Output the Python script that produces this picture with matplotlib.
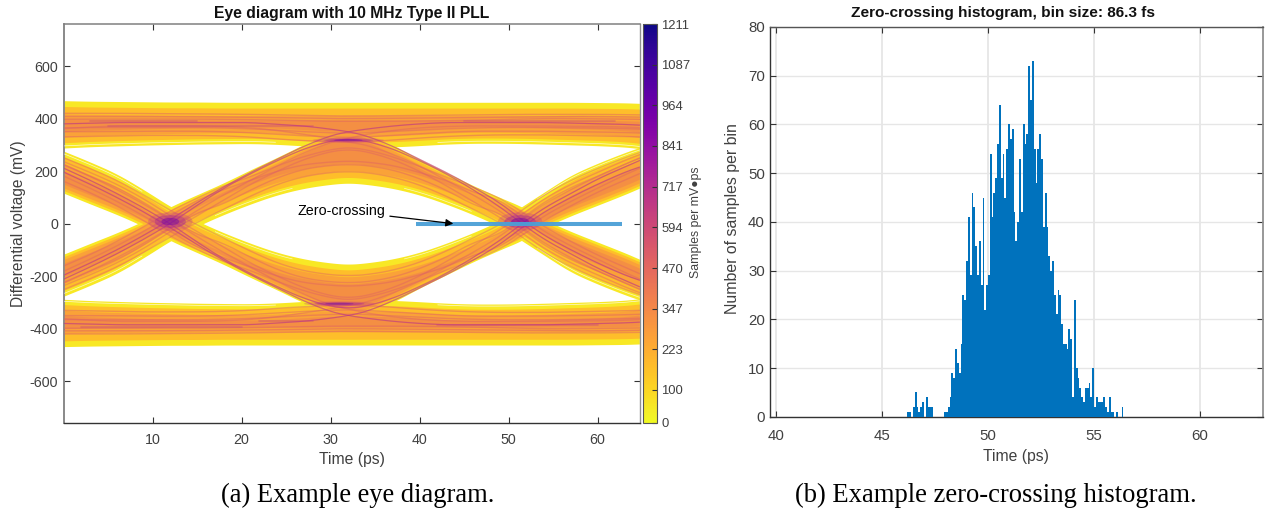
import numpy as np
import matplotlib
matplotlib.use("Agg")
import matplotlib.pyplot as plt
from matplotlib.cm import ScalarMappable
from matplotlib.colors import Normalize
from matplotlib.patches import Ellipse

# ---- data -----------------------------------------------------------------
t_s = [0.1, 3, 6, 9, 12, 15, 18, 21, 24, 27, 30, 32, 34, 37, 40, 43, 46, 49, 51.5, 54, 57, 60, 63, 64.7]

arc_hi = [-115, -75, -35, 10, 65, 110, 155, 205, 252, 302, 348, 362, 348, 300, 245, 195, 145, 100, 65, 15, -30, -70, -110, -135]
arc_lo = [-275, -235, -190, -130, -65, -10, 35, 75, 110, 135, 150, 155, 150, 135, 110, 75, 35, -10, -65, -120, -185, -230, -270, -290]

rail_top = [468, 466, 465, 464, 463, 463, 462, 462, 462, 462, 462, 462, 462, 462, 462, 462, 462, 462, 462, 462, 462, 461, 460, 458]
rail_low = [288, 293, 296, 299, 301, 303, 304, 305, 302, 296, 290, 290, 290, 292, 297, 303, 306, 306, 305, 303, 300, 297, 292, 286]

trace_a = [-210, -165, -115, -60, 0, 70, 135, 190, 240, 285, 315, 322, 315, 285, 240, 190, 130, 65, 0, -60, -115, -170, -215, -240]
trace_b = [-235, -195, -150, -95, -30, 30, 90, 150, 200, 245, 275, 282, 275, 245, 200, 145, 85, 25, -35, -95, -150, -195, -240, -262]
trace_c = [-180, -135, -85, -30, 30, 90, 130, 165, 200, 225, 235, 238, 235, 222, 195, 165, 120, 90, 30, -30, -85, -135, -185, -210]
trace_d = [-250, -210, -165, -110, -50, 5, 55, 105, 150, 180, 195, 198, 195, 178, 148, 105, 55, 5, -50, -110, -165, -210, -250, -270]
trace_e = [-195, -150, -100, -45, 15, 80, 140, 195, 245, 295, 335, 350, 360, 372, 380, 385, 385, 385, 385, 385, 383, 380, 378, 375]
trace_f = [-225, -180, -130, -75, -15, 50, 110, 165, 220, 270, 310, 325, 340, 355, 365, 370, 372, 372, 372, 372, 370, 370, 368, 365]
trace_g = [380, 382, 385, 385, 385, 385, 385, 385, 378, 372, 360, 350, 335, 295, 245, 195, 140, 80, 15, -45, -100, -150, -195, -215]
trace_h = [362, 368, 372, 372, 372, 372, 370, 365, 355, 340, 325, 310, 300, 265, 220, 165, 110, 50, -15, -75, -130, -180, -225, -250]
trace_i = [-160, -118, -68, -12, 48, 98, 145, 178, 220, 256, 282, 290, 282, 255, 218, 176, 140, 98, 45, -12, -68, -120, -165, -190]
trace_j = [-222, -180, -138, -82, -18, 42, 75, 128, 175, 208, 222, 225, 222, 205, 172, 128, 72, 40, -20, -82, -138, -180, -225, -248]

streak_1 = [420, 420, 420, 419, 418, 418, 417, 416, 414, 412, 410, 410, 410, 411, 412, 413, 414, 415, 416, 416, 416, 416, 415, 414]
streak_2 = [398, 398, 398, 398, 398, 398, 397, 396, 394, 392, 390, 390, 390, 390, 391, 392, 394, 396, 398, 400, 400, 399, 398, 397]
streak_3 = [350, 350, 351, 352, 352, 352, 350, 346, 340, 334, 330, 328, 330, 336, 342, 348, 352, 352, 352, 352, 350, 349, 347, 345]
streak_4 = [330, 332, 334, 336, 336, 336, 334, 330, 322, 316, 312, 310, 312, 318, 326, 332, 336, 338, 338, 338, 336, 334, 332, 330]
streak_5 = [408, 408, 408, 408, 407, 407, 406, 405, 404, 402, 400, 400, 400, 401, 402, 403, 404, 405, 406, 407, 408, 408, 407, 406]
streak_6 = [365, 366, 366, 366, 366, 366, 364, 361, 356, 350, 346, 344, 346, 351, 356, 361, 364, 366, 366, 366, 365, 364, 362, 360]

# darker runs on the rails: start time, end time, level
dark_t0 = [5, 3, 45, 2, 22, 42]
dark_t1 = [28, 15, 62, 20, 28, 60]
dark_v = [373, 390, 390, -395, -369, -385]

cross_t = [12.0, 51.3, 32.0, 31.0]
cross_v = [8, 8, 318, -305]
cross_w = [5.0, 5.0, 8.0, 8.0]
cross_h = [70, 70, 18, 18]

zero_t = [39.6, 62.8]
zero_v = [0, 0]

cbar_ticks = [0, 100, 223, 347, 470, 594, 717, 841, 964, 1087, 1211]

hist_start = 46.2
hist_bin = 0.0863
hist_counts = [1, 1, 0, 2, 5, 2, 1, 2, 3, 0, 4, 2, 2, 2, 0, 0, 0, 0, 0, 0,
               1, 1, 2, 4, 9, 8, 14, 11, 9, 15, 25, 24, 32, 41, 29, 46, 43, 35, 29, 36,
               27, 45, 22, 27, 29, 54, 41, 46, 49, 56, 64, 49, 54, 45, 55, 60, 57, 59, 42, 36,
               40, 53, 42, 60, 56, 58, 72, 65, 73, 55, 48, 55, 58, 53, 39, 46, 39, 33, 30, 32,
               25, 21, 26, 25, 19, 15, 15, 14, 18, 16, 4, 24, 10, 8, 6, 4, 3, 6, 6, 7,
               4, 10, 2, 4, 3, 3, 3, 4, 2, 1, 4, 1, 1, 0, 1, 0, 0, 2]

# ---- style ----------------------------------------------------------------
plt.rcParams['font.family'] = ['Liberation Sans', 'DejaVu Sans']
plt.rcParams['axes.unicode_minus'] = False
W, H = 1270, 514
DARK = '#404040'
cmap = plt.get_cmap('plasma_r')
fig = plt.figure(figsize=(W / 100, H / 100), dpi=100)


def box(l, t, r, b):
    return [l / W, 1 - b / H, (r - l) / W, (b - t) / H]


def rounded(x, y, passes=3):
    x, y = np.asarray(x, float), np.asarray(y, float)
    for _ in range(passes):
        xa, ya = 0.75 * x[:-1] + 0.25 * x[1:], 0.75 * y[:-1] + 0.25 * y[1:]
        xb, yb = 0.25 * x[:-1] + 0.75 * x[1:], 0.25 * y[:-1] + 0.75 * y[1:]
        x = np.concatenate(([x[0]], np.ravel(np.column_stack((xa, xb))), [x[-1]]))
        y = np.concatenate(([y[0]], np.ravel(np.column_stack((ya, yb))), [y[-1]]))
    return x, y


def band(axis, upper, lower, sign, **kw):
    tu, yu = rounded(t_s, upper)
    _, yl = rounded(t_s, lower)
    axis.fill_between(tu, sign * yu, sign * yl, lw=0, **kw)


ax = fig.add_axes(box(63.7, 24, 639.7, 423.3))
cax = fig.add_axes(box(643.3, 24, 657.3, 422.8))
bx = fig.add_axes(box(769.7, 27, 1263, 416.8))

# ---- eye diagram ----------------------------------------------------------
hi, lo = np.array(arc_hi, float), np.array(arc_lo, float)
rt, rl = np.array(rail_top, float), np.array(rail_low, float)

yellow, amber, orange, rose = '#f8e825', cmap(0.14), cmap(0.23), cmap(0.33)
for sign in (1, -1):
    band(ax, rt, rl, sign, color=yellow, zorder=1)
    band(ax, hi, lo, sign, color=yellow, zorder=1)
for sign in (1, -1):
    band(ax, rt - 22, rl + 20, sign, color=amber, zorder=2)
    band(ax, hi - 10, lo + 22, sign, color=amber, zorder=2)
for sign in (1, -1):
    band(ax, rt - 50, rl + 42, sign, color=orange, alpha=0.8, zorder=3)
    band(ax, hi - 20, lo + 48, sign, color=orange, alpha=0.8, zorder=3)
for sign in (1, -1):
    band(ax, rt - 68, rl + 62, sign, color=rose, alpha=0.45, zorder=3)
    band(ax, hi - 34, lo + 75, sign, color=rose, alpha=0.45, zorder=3)

# thin white gaps next to the inner edges of the eye
for sign in (1, -1):
    tg, yg = rounded(t_s, rl + 8)
    keep = (tg < 24) | (tg > 42)
    ax.plot(tg, np.where(keep, sign * yg, np.nan), color='white', lw=0.5, alpha=0.8, zorder=4)
    tg, yg = rounded(t_s, lo + 10)
    ax.plot(tg, np.where((tg < 9) | (tg > 53) | ((tg > 17) & (tg < 26)) | ((tg > 38) & (tg < 46)), sign * yg, np.nan),
            color='white', lw=0.5, alpha=0.7, zorder=4)

for tr in (trace_a, trace_b, trace_c, trace_d, trace_e, trace_f, trace_g, trace_h, trace_i, trace_j):
    tx, yy = rounded(t_s, tr)
    for sign in (1, -1):
        ax.plot(tx, sign * yy, color=cmap(0.42), lw=1.0, alpha=0.42, zorder=4)
for tr in (trace_a, trace_e, trace_g):
    tx, yy = rounded(t_s, tr)
    for sign in (1, -1):
        ax.plot(tx, sign * yy, color=cmap(0.6), lw=0.8, alpha=0.45, zorder=5)
for tr in (streak_1, streak_2, streak_3, streak_4, streak_5, streak_6):
    tx, yy = rounded(t_s, tr)
    for sign in (1, -1):
        ax.plot(tx, sign * yy, color=cmap(0.42), lw=1.0, alpha=0.45, zorder=4)
for a, b, v in zip(dark_t0, dark_t1, dark_v):
    ax.plot([a, b], [v, v], color=cmap(0.55), lw=1.2, alpha=0.35, solid_capstyle='round', zorder=5)

for ct, cv, cw, ch in zip(cross_t, cross_v, cross_w, cross_h):
    for scale, shade, alpha in ((1.0, 0.55, 0.3), (0.7, 0.68, 0.35), (0.4, 0.8, 0.45)):
        ax.add_patch(Ellipse((ct, cv), cw * scale, ch * scale, color=cmap(shade), alpha=alpha, lw=0, zorder=6))

ax.plot(zero_t, zero_v, color='#4b9fd6', lw=2.9, solid_capstyle='butt', alpha=0.95, zorder=7)
ax.annotate('Zero-crossing', xy=(43.8, 0), xytext=(36.2, 50), fontsize=10.3, color='black',
            ha='right', va='center', zorder=8,
            arrowprops=dict(arrowstyle='-|>', color='black', lw=0.9, mutation_scale=11,
                            shrinkA=1, shrinkB=0))

ax.set_xlim(0.02, 64.74)
ax.set_ylim(-760, 760)
ax.set_xticks([10, 20, 30, 40, 50, 60])
ax.set_yticks([-600, -400, -200, 0, 200, 400, 600])
ax.tick_params(axis='x', pad=7)
ax.tick_params(direction='in', length=4.5, width=0.8, top=True, right=True, labelsize=10.3,
               colors='#333333', labelcolor=DARK)
ax.tick_params(axis='y', pad=4)
ax.set_title('Eye diagram with 10 MHz Type II PLL', fontsize=11.35, fontweight='bold', pad=4.5, color='#111111')
ax.set_xlabel('Time (ps)', fontsize=11.3, color=DARK)
ax.set_ylabel('Differential voltage (mV)', fontsize=11.2, color=DARK)
ax.xaxis.set_label_coords(0.5, -0.071)
ax.yaxis.set_label_coords(-0.065, 0.5)
for side, col, lw in (('left', '#808080', 1.3), ('top', '#808080', 1.1), ('right', '#909090', 1.0), ('bottom', '#333333', 1.0)):
    ax.spines[side].set_color(col)
    ax.spines[side].set_linewidth(lw)

# ---- colour bar -----------------------------------------------------------
cb = fig.colorbar(ScalarMappable(Normalize(0, 1211), cmap), cax=cax, ticks=cbar_ticks)
cb.ax.tick_params(direction='in', length=3.5, width=0.8, labelsize=9.4, labelcolor=DARK, color='#333333', pad=3)
cb.outline.set_edgecolor('#555555')
cb.outline.set_linewidth(0.8)
fig.text(696.5 / W, 1 - 222 / H, 'Samples per mV\u25cfps', rotation=90, ha='center', va='center',
         fontsize=8.8, color=DARK)

# ---- histogram ------------------------------------------------------------
counts = np.array(hist_counts)
left = hist_start + np.arange(counts.size) * hist_bin
bx.bar(left, counts, width=hist_bin, align='edge', color='#0072BD', lw=0, zorder=3)
bx.set_xlim(39.7, 62.97)
bx.set_ylim(0, 80)
bx.set_xticks([40, 45, 50, 55, 60])
bx.set_yticks(range(0, 81, 10))
bx.grid(True, axis='y', color='#e6e6e6', lw=1.0, zorder=0)
bx.grid(True, axis='x', color='#e6e6e6', lw=1.3, zorder=0)
bx.set_axisbelow(True)
bx.tick_params(direction='in', length=4.5, width=0.8, top=True, right=True, labelsize=10.8,
               colors='#333333', labelcolor=DARK)
bx.tick_params(axis='x', pad=8.5)
bx.tick_params(axis='y', pad=3.5)
bx.set_title('Zero-crossing histogram, bin size: 86.3 fs', fontsize=11.1, fontweight='bold', pad=7.5, color='#111111', x=0.4735)
bx.set_xlabel('Time (ps)', fontsize=11.3, color=DARK)
bx.set_ylabel('Number of samples per bin', fontsize=11.4, color=DARK)
bx.xaxis.set_label_coords(0.5, -0.083)
bx.yaxis.set_label_coords(-0.061, 0.508)
for side, col, lw in (('left', '#333333', 1.0), ('top', '#555555', 1.0), ('right', '#909090', 1.3), ('bottom', '#333333', 1.0)):
    bx.spines[side].set_color(col)
    bx.spines[side].set_linewidth(lw)

# ---- captions -------------------------------------------------------------
fig.text(358 / W, 1 - 495.5 / H, '(a) Example eye diagram.', family='Liberation Serif', fontsize=19.1,
         ha='center', va='center', color='black')
fig.text(996 / W, 1 - 495.5 / H, '(b) Example zero-crossing histogram.', family='Liberation Serif', fontsize=19.2,
         ha='center', va='center', color='black')

fig.savefig('out.png', dpi=100)
